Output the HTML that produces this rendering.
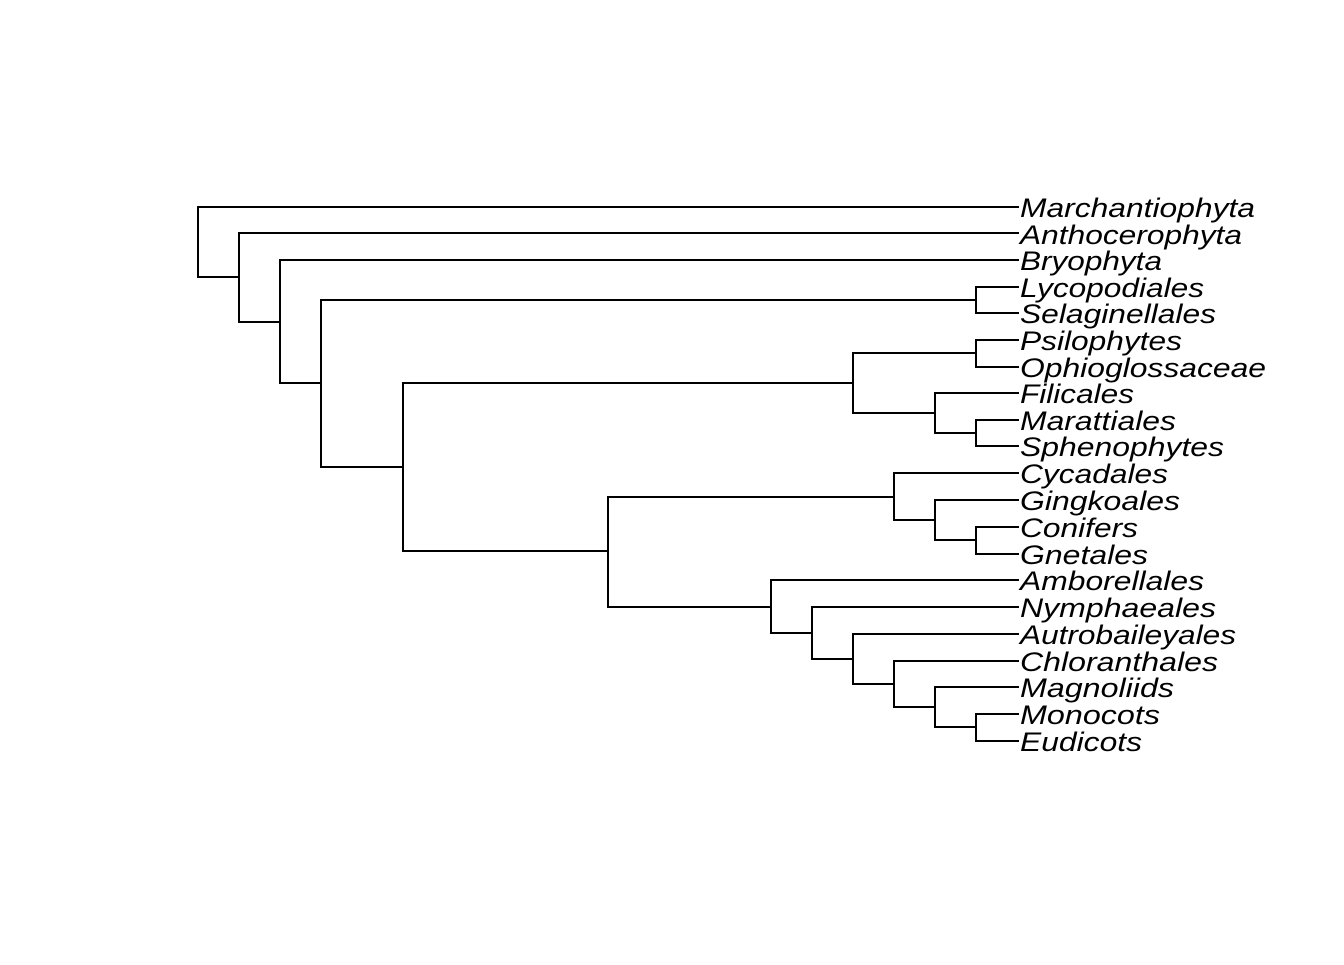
<!DOCTYPE html>
<html><head><meta charset="utf-8"><style>html,body{margin:0;padding:0;background:#fff}</style></head>
<body>
<svg width="1344" height="960" viewBox="0 0 1344 960" xmlns="http://www.w3.org/2000/svg">
<g stroke="#000" stroke-width="2" fill="none" stroke-linecap="square">
<path d="M198 207V277 M198 207H1018 M198 277H239"/>
<path d="M239 233V322 M239 233H1018 M239 322H280"/>
<path d="M280 260V383 M280 260H1018 M280 383H321"/>
<path d="M321 300V467 M321 300H976 M321 467H403"/>
<path d="M976 287V313 M976 287H1018 M976 313H1018"/>
<path d="M403 383V551 M403 383H853 M403 551H608"/>
<path d="M853 353V413 M853 353H976 M853 413H935"/>
<path d="M976 340V367 M976 340H1018 M976 367H1018"/>
<path d="M935 393V433 M935 393H1018 M935 433H976"/>
<path d="M976 420V446 M976 420H1018 M976 446H1018"/>
<path d="M608 497V607 M608 497H894 M608 607H771"/>
<path d="M894 473V520 M894 473H1018 M894 520H935"/>
<path d="M935 500V540 M935 500H1018 M935 540H976"/>
<path d="M976 527V554 M976 527H1018 M976 554H1018"/>
<path d="M771 580V633 M771 580H1018 M771 633H812"/>
<path d="M812 607V659 M812 607H1018 M812 659H853"/>
<path d="M853 634V684 M853 634H1018 M853 684H894"/>
<path d="M894 661V707 M894 661H1018 M894 707H935"/>
<path d="M935 687V727 M935 687H1018 M935 727H976"/>
<path d="M976 714V741 M976 714H1018 M976 741H1018"/>
</g>
<g font-family="Liberation Sans, sans-serif" font-style="italic" font-size="27" fill="#000">
<text x="1020" y="217" textLength="235" lengthAdjust="spacingAndGlyphs">Marchantiophyta</text>
<text x="1020" y="244" textLength="222" lengthAdjust="spacingAndGlyphs">Anthocerophyta</text>
<text x="1020" y="270" textLength="142" lengthAdjust="spacingAndGlyphs">Bryophyta</text>
<text x="1020" y="297" textLength="184" lengthAdjust="spacingAndGlyphs">Lycopodiales</text>
<text x="1020" y="323" textLength="196" lengthAdjust="spacingAndGlyphs">Selaginellales</text>
<text x="1020" y="350" textLength="162" lengthAdjust="spacingAndGlyphs">Psilophytes</text>
<text x="1020" y="377" textLength="246" lengthAdjust="spacingAndGlyphs">Ophioglossaceae</text>
<text x="1020" y="403" textLength="114" lengthAdjust="spacingAndGlyphs">Filicales</text>
<text x="1020" y="430" textLength="156" lengthAdjust="spacingAndGlyphs">Marattiales</text>
<text x="1020" y="456" textLength="204" lengthAdjust="spacingAndGlyphs">Sphenophytes</text>
<text x="1020" y="483" textLength="148" lengthAdjust="spacingAndGlyphs">Cycadales</text>
<text x="1020" y="510" textLength="160" lengthAdjust="spacingAndGlyphs">Gingkoales</text>
<text x="1020" y="537" textLength="118" lengthAdjust="spacingAndGlyphs">Conifers</text>
<text x="1020" y="564" textLength="128" lengthAdjust="spacingAndGlyphs">Gnetales</text>
<text x="1020" y="590" textLength="184" lengthAdjust="spacingAndGlyphs">Amborellales</text>
<text x="1020" y="617" textLength="196" lengthAdjust="spacingAndGlyphs">Nymphaeales</text>
<text x="1020" y="644" textLength="216" lengthAdjust="spacingAndGlyphs">Autrobaileyales</text>
<text x="1020" y="671" textLength="198" lengthAdjust="spacingAndGlyphs">Chloranthales</text>
<text x="1020" y="697" textLength="154" lengthAdjust="spacingAndGlyphs">Magnoliids</text>
<text x="1020" y="724" textLength="140" lengthAdjust="spacingAndGlyphs">Monocots</text>
<text x="1020" y="751" textLength="122" lengthAdjust="spacingAndGlyphs">Eudicots</text>
</g>
</svg>
</body></html>
